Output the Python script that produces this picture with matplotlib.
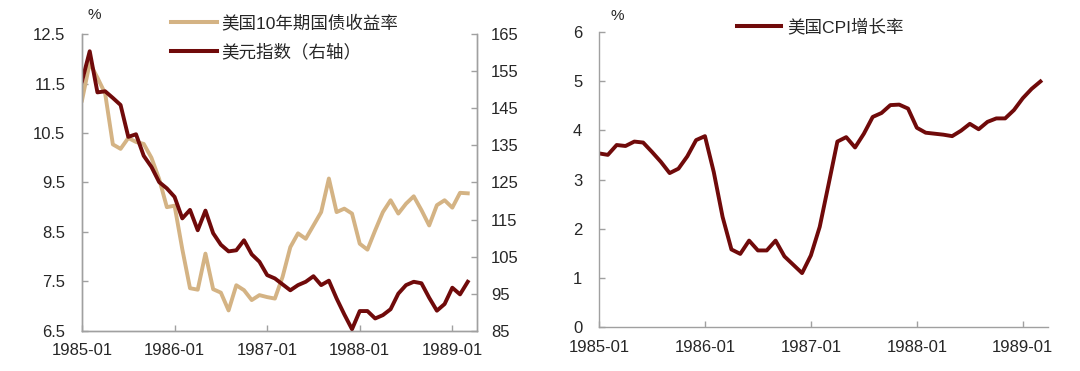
import matplotlib
matplotlib.use("Agg")
import matplotlib.pyplot as plt
from matplotlib.lines import Line2D

plt.rcParams["font.family"] = ["Liberation Sans", "Noto Sans CJK SC"]

# monthly, 1985-01 .. 1989-03
month_index = list(range(51))
tick_pos = [0, 12, 24, 36, 48]
tick_labels = ["1985-01", "1986-01", "1987-01", "1988-01", "1989-01"]

# US 10y treasury yield, %
yield_10y = [
    11.16, 11.92, 11.62, 11.30, 10.27, 10.18, 10.40, 10.32, 10.28, 10.00, 9.57, 9.00,
    9.03, 8.15, 7.36, 7.33, 8.06, 7.34, 7.27, 6.91, 7.42, 7.32, 7.12, 7.22,
    7.18, 7.15, 7.59, 8.19, 8.47, 8.36, 8.63, 8.90, 9.58, 8.90, 8.97, 8.87,
    8.26, 8.14, 8.53, 8.90, 9.14, 8.87, 9.07, 9.22, 8.94, 8.63, 9.04, 9.14,
    8.99, 9.29, 9.28,
]

# US dollar index (right axis)
dollar_idx = [
    152.3, 160.4, 149.3, 149.6, 147.8, 145.9, 137.3, 138.0, 132.2, 129.2, 125.1, 123.4,
    121.1, 115.3, 117.6, 112.1, 117.4, 111.3, 108.2, 106.4, 106.7, 109.4, 105.6, 103.6,
    100.0, 99.1, 97.5, 95.9, 97.3, 98.2, 99.7, 97.3, 98.5, 93.7, 89.4, 85.4,
    90.3, 90.3, 88.3, 89.2, 90.8, 95.0, 97.3, 98.2, 97.8, 93.9, 90.4, 92.2,
    96.6, 94.8, 98.2,
]

# US CPI growth, %
cpi = [
    3.53, 3.50, 3.70, 3.68, 3.77, 3.75, 3.56, 3.36, 3.13, 3.22, 3.47, 3.80,
    3.88, 3.15, 2.24, 1.58, 1.49, 1.76, 1.56, 1.56, 1.76, 1.44, 1.27, 1.10,
    1.46, 2.04, 2.90, 3.77, 3.86, 3.65, 3.93, 4.27, 4.35, 4.51, 4.52, 4.44,
    4.05, 3.95, 3.93, 3.91, 3.88, 3.99, 4.13, 4.02, 4.17, 4.24, 4.24, 4.41,
    4.65, 4.84, 4.99,
]

tan = "#d4b384"
dark_red = "#700a0a"
spine_c = "#a0a0a0"
text_c = "#262626"
fs = 12
leg_fs = 12.6

fig = plt.figure(figsize=(10.8, 3.71), dpi=100)


def style(ax, sides):
    for s in ["left", "right", "top", "bottom"]:
        ax.spines[s].set_visible(s in sides)
        ax.spines[s].set_color(spine_c)
        ax.spines[s].set_linewidth(1.0)
    ax.tick_params(direction="in", length=4, width=1, color=spine_c,
                   labelcolor=text_c, labelsize=fs)
    ax.tick_params(axis="x", pad=9)
    ax.tick_params(axis="y", pad=12)


# left panel
ax1 = fig.add_axes([82 / 1080, 40.3 / 371, 395 / 1080, 296.5 / 371])
ax1.plot(month_index, yield_10y, color=tan, lw=2.8)
ax1.set_ylim(6.5, 12.5)
ax1.set_yticks([6.5, 7.5, 8.5, 9.5, 10.5, 11.5, 12.5])
ax1.set_yticklabels(["6.5", "7.5", "8.5", "9.5", "10.5", "11.5", "12.5"])
ax1.set_xlim(0, 51.2)
ax1.set_xticks(tick_pos)
ax1.set_xticklabels(tick_labels)
style(ax1, ["left", "bottom", "right"])

ax1r = ax1.twinx()
ax1r.plot(month_index, dollar_idx, color=dark_red, lw=2.8)
ax1r.set_ylim(85, 165)
ax1r.set_yticks(range(85, 166, 10))
style(ax1r, ["left", "bottom", "right"])
ax1r.tick_params(axis="y", pad=10)

handles = [Line2D([], [], color=tan, lw=2.9), Line2D([], [], color=dark_red, lw=2.9)]
leg = ax1r.legend(handles, ["美国10年期国债收益率", "美元指数（右轴）"],
                  loc="upper left", bbox_to_anchor=(171 / 1080, 1 - 14 / 371),
                  bbox_transform=fig.transFigure, frameon=False, fontsize=leg_fs,
                  handlelength=2.6, handletextpad=0.25, labelspacing=0.72,
                  borderpad=0, borderaxespad=0)
for t in leg.get_texts():
    t.set_color(text_c)
fig.text(94 / 1080, 1 - 15 / 371, "%", ha="center", va="center",
         fontsize=11, color=text_c)

# right panel
ax2 = fig.add_axes([599 / 1080, 43.7 / 371, 449.4 / 1080, 295.6 / 371])
ax2.plot(month_index, cpi, color=dark_red, lw=2.8)
ax2.set_ylim(0, 6)
ax2.set_yticks(range(0, 7))
ax2.set_xlim(0, 50.9)
ax2.set_xticks(tick_pos)
ax2.set_xticklabels(tick_labels)
style(ax2, ["left", "bottom"])

leg2 = ax2.legend([Line2D([], [], color=dark_red, lw=2.9)], ["美国CPI增长率"],
                  loc="upper left", bbox_to_anchor=(737 / 1080, 1 - 18 / 371),
                  bbox_transform=fig.transFigure, frameon=False, fontsize=leg_fs,
                  handlelength=2.5, handletextpad=0.35, borderpad=0,
                  borderaxespad=0)
for t in leg2.get_texts():
    t.set_color(text_c)
fig.text(617 / 1080, 1 - 16 / 371, "%", ha="center", va="center",
         fontsize=11, color=text_c)

fig.savefig("out.png", dpi=100)
